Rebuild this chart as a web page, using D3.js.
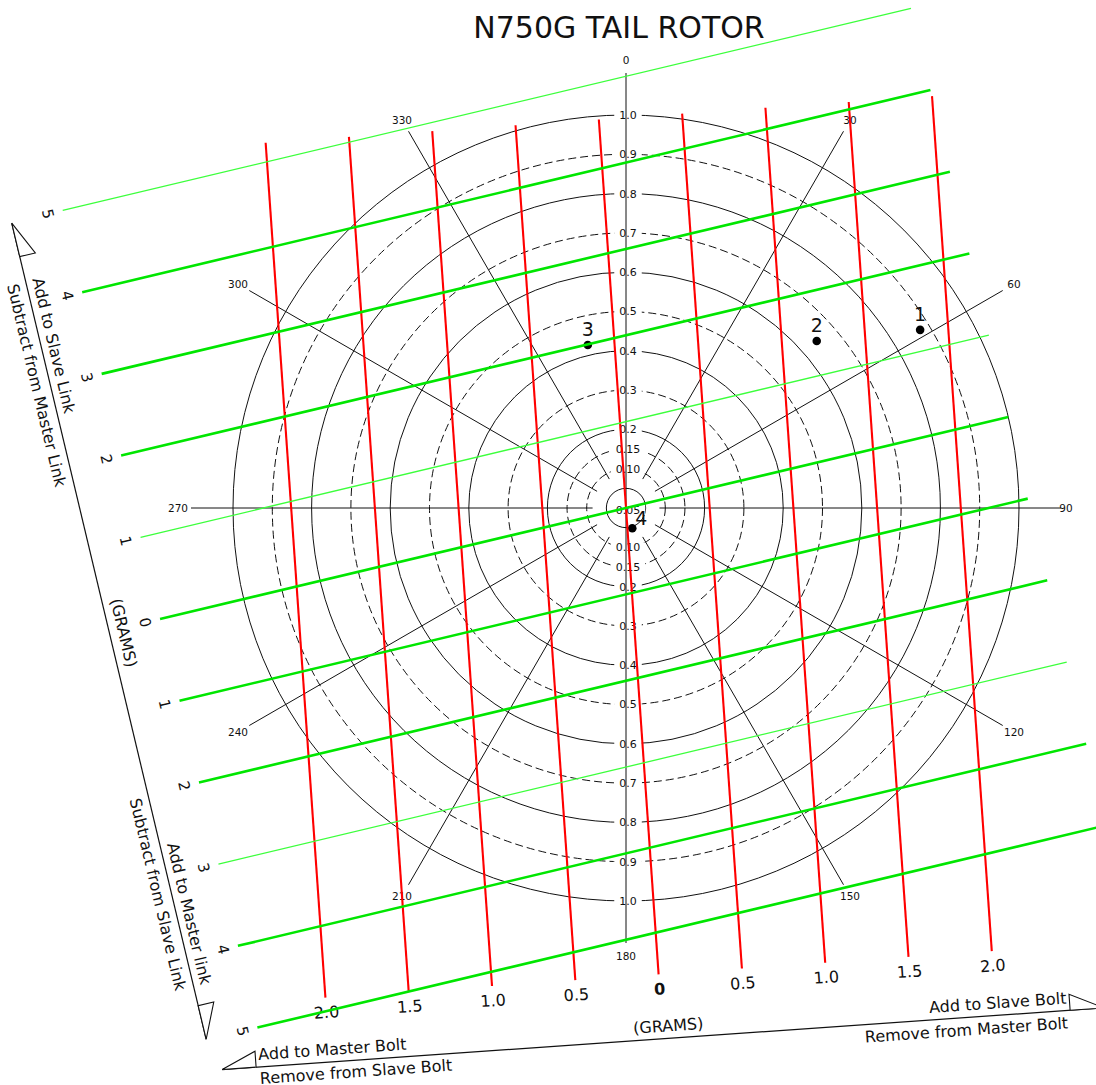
<!DOCTYPE html>
<html lang="en">
<head>
<meta charset="UTF-8">
<title>N750G Tail Rotor</title>
<script src="https://d3js.org/d3.v7.min.js"></script>
<style>
    body {
        margin: 0;
        background: #fff;
        font-family: "DejaVu Sans", Verdana, sans-serif;
    }
    svg text { fill: #111; }
</style>
</head>
<body>
<svg width="1096" height="1085"></svg>
<script>
    var width = 1096, height = 1085;
    var cx = 626, cy = 508;

    // chart data
    var chartTitle = "N750G TAIL ROTOR";
    var ringValues = [0.05, 0.10, 0.15, 0.2, 0.3, 0.4, 0.5, 0.6, 0.7, 0.8, 0.9, 1.0];
    var ringLabels = ["0.05", "0.10", "0.15", "0.2", "0.3", "0.4", "0.5", "0.6", "0.7", "0.8", "0.9", "1.0"];
    var dashedRings = [0.10, 0.15, 0.3, 0.5, 0.7, 0.9];
    var spokeAngles = [0, 30, 60, 90, 120, 150, 180, 210, 240, 270, 300, 330];

    var boltWeights = [-2, -1.5, -1, -0.5, 0, 0.5, 1, 1.5, 2];
    var boltLabels = ["2.0", "1.5", "1.0", "0.5", "0", "0.5", "1.0", "1.5", "2.0"];
    var linkWeights = [-5, -4, -3, -2, -1, 0, 1, 2, 3, 4, 5];
    var linkLabels = ["5", "4", "3", "2", "1", "0", "1", "2", "3", "4", "5"];

    var pointIds = ["1", "2", "3", "4"];
    var pointAmps = [0.875, 0.645, 0.426, 0.054];
    var pointAngles = [58.8, 48.8, 346.8, 162.8];

    // scales
    var r = d3.scaleLinear().domain([0, 1]).range([0, 393]);
    var boltX = d3.scaleLinear().domain([-2, 2]).range([-334, 334]);
    var linkY = d3.scaleLinear().domain([-5, 5]).range([-420, 420]);

    var boltTilt = -4.0, linkTilt = -13.4;

    var svg = d3.select("svg");
    svg.append("rect").attr("width", width).attr("height", height).attr("fill", "#fff");

    function polarXY(amp, deg) {
        var a = deg * Math.PI / 180;
        return [r(amp) * Math.sin(a), -r(amp) * Math.cos(a)];
    }

    // title
    svg.append("text")
        .attr("x", 619).attr("y", 38)
        .attr("text-anchor", "middle")
        .style("font-size", "30px")
        .text(chartTitle);

    var polar = svg.append("g").attr("transform", "translate(" + cx + "," + cy + ")");

    // rings
    polar.selectAll("circle.ring")
        .data(ringValues)
        .enter().append("circle")
        .attr("class", "ring")
        .attr("r", function(d) { return r(d); })
        .attr("fill", "none")
        .attr("stroke", "#111")
        .attr("stroke-width", 1)
        .attr("stroke-dasharray", function(d) { return dashedRings.indexOf(d) >= 0 ? "8,4" : null; });

    // ring labels on the vertical axis (0.05 sits at the centre)
    var ringLabelData = [];
    ringValues.forEach(function(v, i) {
        if (v < 0.06) {
            ringLabelData.push({ y: 2, t: ringLabels[i] });
        } else {
            ringLabelData.push({ y: -r(v), t: ringLabels[i] });
            ringLabelData.push({ y: r(v), t: ringLabels[i] });
        }
    });

    var ringLab = polar.selectAll("g.ringlab")
        .data(ringLabelData)
        .enter().append("g")
        .attr("class", "ringlab")
        .attr("transform", function(d) { return "translate(2," + d.y + ")"; });

    ringLab.append("rect").attr("fill", "#fff");
    ringLab.append("text")
        .attr("text-anchor", "middle")
        .attr("dy", "0.36em")
        .style("font-size", "11px")
        .text(function(d) { return d.t; });
    ringLab.each(function() {
        var g = d3.select(this);
        var w = g.select("text").node().getComputedTextLength() + 10;
        g.select("rect").attr("x", -w / 2).attr("y", -5).attr("width", w).attr("height", 10);
    });

    // spokes
    var spokeEnd = 435, spokeStart = r(0.085);
    polar.selectAll("line.spoke")
        .data(spokeAngles)
        .enter().append("line")
        .attr("class", "spoke")
        .attr("x1", function(d) { return (d % 180 === 0 ? 0 : spokeStart) * Math.sin(d * Math.PI / 180); })
        .attr("y1", function(d) { return -(d % 180 === 0 ? 0 : spokeStart) * Math.cos(d * Math.PI / 180); })
        .attr("x2", function(d) { return spokeEnd * Math.sin(d * Math.PI / 180); })
        .attr("y2", function(d) { return -spokeEnd * Math.cos(d * Math.PI / 180); })
        .attr("stroke", "#111")
        .attr("stroke-width", 1);

    polar.selectAll("text.spokelab")
        .data(spokeAngles)
        .enter().append("text")
        .attr("class", "spokelab")
        .attr("x", function(d) { return (d === 90 ? 440 : 448) * Math.sin(d * Math.PI / 180); })
        .attr("y", function(d) { return -448 * Math.cos(d * Math.PI / 180); })
        .attr("text-anchor", "middle")
        .attr("dy", "0.36em")
        .style("font-size", "10.5px")
        .text(function(d) { return d; });

    // bolt (red) lines, rotated frame
    var bolt = svg.append("g")
        .attr("transform", "translate(" + cx + "," + cy + ") rotate(" + boltTilt + ")");

    bolt.selectAll("line.bolt")
        .data(boltWeights)
        .enter().append("line")
        .attr("class", "bolt")
        .attr("x1", function(d) { return boltX(d); })
        .attr("x2", function(d) { return boltX(d); })
        .attr("y1", -389.5)
        .attr("y2", 467.5)
        .attr("stroke", "#ff0000")
        .attr("stroke-width", 2.1);

    bolt.selectAll("text.boltlab")
        .data(boltWeights)
        .enter().append("text")
        .attr("class", "boltlab")
        .attr("x", function(d) { return boltX(d); })
        .attr("y", 482)
        .attr("dy", "0.36em")
        .attr("text-anchor", "middle")
        .style("font-size", "16px")
        .style("font-weight", function(d) { return d === 0 ? "bold" : "normal"; })
        .text(function(d, i) { return boltLabels[i]; });

    // bolt axis with half arrows
    bolt.append("line")
        .attr("x1", -442).attr("x2", 442).attr("y1", 532).attr("y2", 532)
        .attr("stroke", "#111").attr("stroke-width", 1.2);
    [-1, 1].forEach(function(s) {
        bolt.append("path")
            .attr("d", "M" + (s * 442) + ",532 L" + (s * 408) + ",532 L" + (s * 408) + ",516 Z")
            .attr("fill", "#fff").attr("stroke", "#111").attr("stroke-width", 1.1);
    });
    var boltText = [
        { t: "Add to Master Bolt", x: -405, y: 525, a: "start" },
        { t: "Remove from Slave Bolt", x: -405, y: 549, a: "start" },
        { t: "(GRAMS)", x: 6, y: 525, a: "middle" },
        { t: "Add to Slave Bolt", x: 405, y: 525, a: "end" },
        { t: "Remove from Master Bolt", x: 405, y: 550, a: "end" }
    ];
    bolt.selectAll("text.boltaxis")
        .data(boltText)
        .enter().append("text")
        .attr("class", "boltaxis")
        .attr("x", function(d) { return d.x; })
        .attr("y", function(d) { return d.y; })
        .attr("text-anchor", function(d) { return d.a; })
        .style("font-size", "16px")
        .text(function(d) { return d.t; });

    // link (green) lines, rotated frame
    var link = svg.append("g")
        .attr("transform", "translate(" + cx + "," + cy + ") rotate(" + linkTilt + ")");

    link.selectAll("line.link")
        .data(linkWeights)
        .enter().append("line")
        .attr("class", "link")
        .attr("x1", -479)
        .attr("x2", 393)
        .attr("y1", function(d) { return linkY(d); })
        .attr("y2", function(d) { return linkY(d); })
        .attr("stroke", function(d) { return (d + 5) % 4 === 0 ? "#3cff3c" : "#00e600"; })
        .attr("stroke-width", function(d) { return (d + 5) % 4 === 0 ? 1.3 : 2.6; });

    link.selectAll("text.linklab")
        .data(linkWeights)
        .enter().append("text")
        .attr("class", "linklab")
        .attr("transform", function(d) { return "translate(-494," + linkY(d) + ") rotate(90)"; })
        .attr("text-anchor", "middle")
        .attr("dy", "0.36em")
        .style("font-size", "15px")
        .text(function(d, i) { return linkLabels[i]; });

    link.append("line")
        .attr("x1", -531.5).attr("x2", -531.5).attr("y1", -419.5).attr("y2", 419.5)
        .attr("stroke", "#111").attr("stroke-width", 1.2);
    [-1, 1].forEach(function(s) {
        link.append("path")
            .attr("d", "M-531.5," + (s * 419.5) + " L-531.5," + (s * 385) + " L-515.5," + (s * 385) + " Z")
            .attr("fill", "#fff").attr("stroke", "#111").attr("stroke-width", 1.1);
    });
    var linkText = [
        { t: "Add to Slave Link", x: -524.5, y: -360, a: "start" },
        { t: "Subtract from Master Link", x: -550.5, y: -360, a: "start" },
        { t: "(GRAMS)", x: -523, y: 5, a: "middle" },
        { t: "Add to Master link", x: -524.5, y: 366, a: "end" },
        { t: "Subtract from Slave Link", x: -550.5, y: 366, a: "end" }
    ];
    link.selectAll("text.linkaxis")
        .data(linkText)
        .enter().append("text")
        .attr("class", "linkaxis")
        .attr("transform", function(d) { return "translate(" + d.x + "," + d.y + ") rotate(90)"; })
        .attr("text-anchor", function(d) { return d.a; })
        .style("font-size", "16px")
        .text(function(d) { return d.t; });

    // balance readings
    var pts = pointIds.map(function(id, i) {
        var p = polarXY(pointAmps[i], pointAngles[i]);
        return { id: id, x: p[0], y: p[1], amp: pointAmps[i] };
    });

    polar.selectAll("circle.pt")
        .data(pts)
        .enter().append("circle")
        .attr("class", "pt")
        .attr("cx", function(d) { return d.x; })
        .attr("cy", function(d) { return d.y; })
        .attr("r", 4.3)
        .attr("fill", "#000");

    polar.selectAll("text.ptlab")
        .data(pts)
        .enter().append("text")
        .attr("class", "ptlab")
        .attr("x", function(d) { return d.amp < 0.1 ? d.x + 9 : d.x; })
        .attr("y", function(d) { return d.amp < 0.1 ? d.y - 10 : d.y - 16; })
        .attr("dy", "0.36em")
        .attr("text-anchor", "middle")
        .style("font-size", "19px")
        .text(function(d) { return d.id; });
</script>
</body>
</html>
